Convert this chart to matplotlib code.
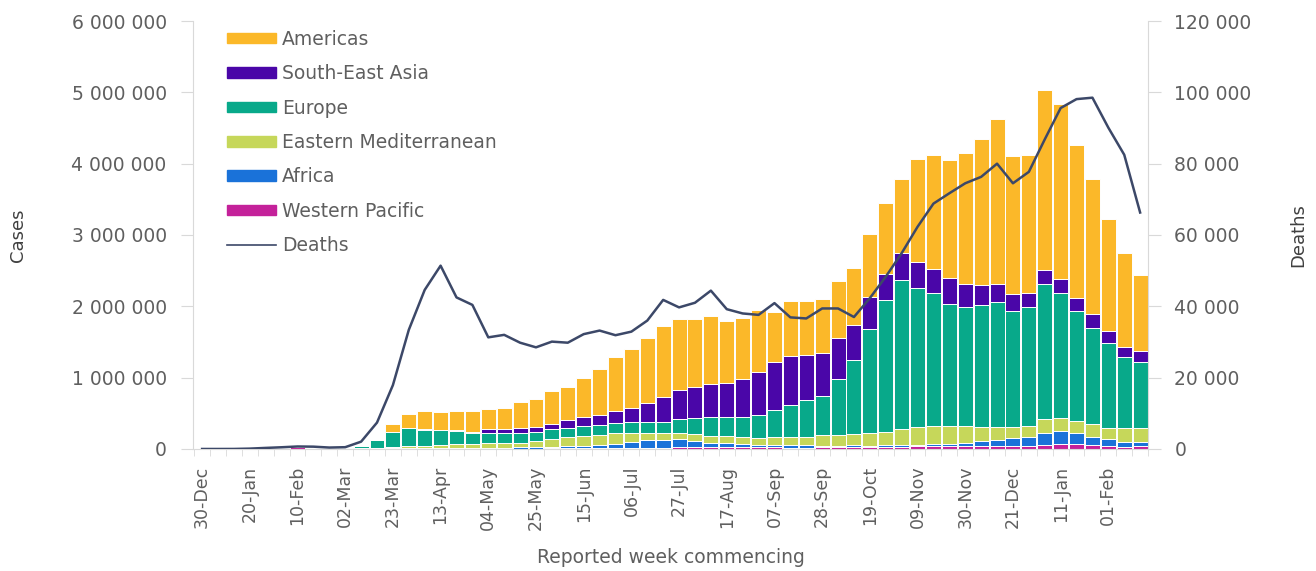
import numpy as np
import pandas as pd
import matplotlib
matplotlib.use("Agg")
import matplotlib.pyplot as plt
from matplotlib.ticker import FuncFormatter, MultipleLocator
from matplotlib.patches import Patch
from matplotlib.lines import Line2D

# weekly data, 30-Dec-2019 .. 15-Feb-2021 (thousands of cases; deaths as counts)
weeks = pd.date_range("2019-12-30", periods=60, freq="7D")
week_labels = [d.strftime("%d-%b") for d in weeks]

western_pacific = [0, 0.1, 0.2, 0.5, 5, 15, 22, 17, 4, 6, 5, 6, 8, 9, 10, 10, 9, 7, 6, 6,
                   6, 6, 7, 7, 7, 8, 10, 12, 15, 20, 25, 30, 30, 28, 27, 25, 22, 20, 20, 22,
                   24, 26, 28, 30, 32, 35, 38, 40, 40, 38, 36, 42, 47, 56, 70, 66, 56, 47, 33, 42]
africa = [0, 0, 0, 0, 0, 0, 0, 0, 0, 0, 0, 0.5, 1, 2, 4, 5, 6, 8, 12, 14,
          18, 22, 26, 28, 35, 48, 60, 91, 111, 106, 111, 87, 59, 52, 43, 31, 34, 31, 29, 25,
          23, 30, 19, 20, 22, 23, 30, 30, 49, 74, 90, 108, 117, 173, 182, 154, 117, 93, 70, 61]
eastern_mediterranean = [0, 0, 0, 0, 0, 0, 0, 0, 2, 8, 8, 10, 16, 24, 31, 40, 55, 51, 62, 60,
                         60, 89, 103, 129, 140, 145, 150, 126, 103, 103, 93, 93, 93, 102, 94, 94, 108, 122, 124, 149,
                         149, 150, 173, 184, 222, 255, 259, 257, 233, 201, 187, 163, 163, 187, 187, 177, 173, 159, 187, 187]
europe = [0, 0, 0, 0, 0, 0, 0, 0.1, 1.5, 12, 30, 108, 215, 260, 225, 210, 182, 163, 144, 144,
          140, 121, 140, 135, 140, 131, 140, 145, 150, 154, 196, 220, 262, 267, 289, 327, 383, 440, 514, 547,
          781, 1035, 1458, 1855, 2093, 1940, 1856, 1701, 1664, 1706, 1752, 1622, 1659, 1893, 1744, 1538, 1355, 1183, 996, 934]
south_east_asia = [0, 0, 0, 0, 0, 0, 0, 0, 0, 0, 0, 0.5, 1, 3, 4, 5, 8, 13, 56, 56,
                   75, 75, 74, 108, 122, 140, 168, 196, 259, 342, 402, 435, 463, 481, 533, 603, 677, 691, 631, 607,
                   575, 504, 449, 364, 383, 373, 340, 365, 327, 280, 248, 234, 205, 200, 200, 186, 187, 172, 148, 150]
americas = [0, 0, 0, 0, 0, 0, 0, 0, 0, 0.5, 2, 5, 109, 188, 263, 244, 279, 291, 281, 290,
            360, 388, 468, 458, 551, 645, 758, 836, 911, 1004, 996, 958, 958, 865, 855, 869, 697, 771, 757, 753,
            803, 788, 883, 991, 1033, 1435, 1603, 1658, 1841, 2047, 2309, 1943, 1935, 2524, 2452, 2134, 1895, 1566, 1314, 1072]
deaths = [0, 0, 10, 100, 300, 480, 700, 650, 400, 500, 2050, 7400, 17900, 33400, 44600, 51400, 42500, 40400, 31300, 32000,
          29800, 28500, 30100, 29800, 32200, 33200, 31900, 32900, 36000, 41800, 39700, 41000, 44400, 39200, 38000, 37600, 40900, 36900, 36600, 39400,
          39400, 37000, 42300, 48300, 54900, 62300, 68800, 71700, 74500, 76300, 80000, 74500, 77700, 86800, 95600, 98100, 98500, 90100, 82500, 66300]

regions = ["Western Pacific", "Africa", "Eastern Mediterranean", "Europe", "South-East Asia", "Americas"]
series = [western_pacific, africa, eastern_mediterranean, europe, south_east_asia, americas]
colors = ["#c4219a", "#1a72d9", "#c6d75a", "#08a98a", "#4a06a8", "#fbb829"]
grey = "#5f5f5f"
spine_col = "#d9d9d9"

plt.rcParams["font.family"] = ["DejaVu Sans"]

fig = plt.figure(figsize=(13.16, 5.71), dpi=100)
ax = fig.add_axes([0.1467, 0.2137, 0.7257, 0.7495])
x = np.arange(len(weeks))

bottom = np.zeros(len(weeks))
for name, vals, c in zip(regions, series, colors):
    v = np.array(vals, dtype=float) * 1000
    ax.bar(x, v, bottom=bottom, width=0.94, color=c, edgecolor="white", linewidth=0.7, label=name)
    bottom += v

ax.set_xlim(-0.57, 59.5)
ax.set_ylim(0, 6000000)
ax.yaxis.set_major_locator(MultipleLocator(1000000))
fmt = FuncFormatter(lambda v, p: f"{int(v):,}".replace(",", " "))
ax.yaxis.set_major_formatter(fmt)
ax.set_xticks(x[::3])
ax.set_xticklabels(week_labels[::3], rotation=90)
ax.set_xticks(np.arange(-0.5, 60, 1), minor=True)
ax.tick_params(axis="x", which="major", length=0, pad=12, labelsize=12.5, labelcolor=grey)
ax.tick_params(axis="x", which="minor", length=5, color=spine_col)
ax.tick_params(axis="y", length=9, color=spine_col, labelsize=13.5, labelcolor=grey, pad=10)
for s in ["top", "right"]:
    ax.spines[s].set_visible(False)
for s in ["left", "bottom"]:
    ax.spines[s].set_color(spine_col)
ax.set_ylabel("Cases", fontsize=13, color="#404040", labelpad=32)
ax.set_xlabel("Reported week commencing", fontsize=13.5, color=grey)
ax.xaxis.set_label_coords(0.5, -0.232)

ax2 = ax.twinx()
ax2.plot(x, deaths, color="#3c4868", linewidth=1.8)
ax2.set_ylim(0, 120000)
ax2.yaxis.set_major_locator(MultipleLocator(20000))
ax2.yaxis.set_major_formatter(fmt)
ax2.tick_params(axis="y", length=9, color=spine_col, labelsize=13.5, labelcolor=grey, pad=10)
for s in ["top", "left", "bottom"]:
    ax2.spines[s].set_visible(False)
ax2.spines["right"].set_color(spine_col)
ax2.set_ylabel("Deaths", fontsize=13, color="#404040", labelpad=27)

handles = [Patch(color=c) for c in colors[::-1]] + [Line2D([], [], color="#3c4868", linewidth=1.2)]
labels = regions[::-1] + ["Deaths"]
leg = ax2.legend(handles, labels, loc="upper left", bbox_to_anchor=(0.028, 0.997), frameon=False,
                 fontsize=13.5, handlelength=2.6, handleheight=0.5, labelspacing=0.82,
                 handletextpad=0.3, borderaxespad=0)
for t in leg.get_texts():
    t.set_color(grey)

fig.savefig("out.png", dpi=100)
